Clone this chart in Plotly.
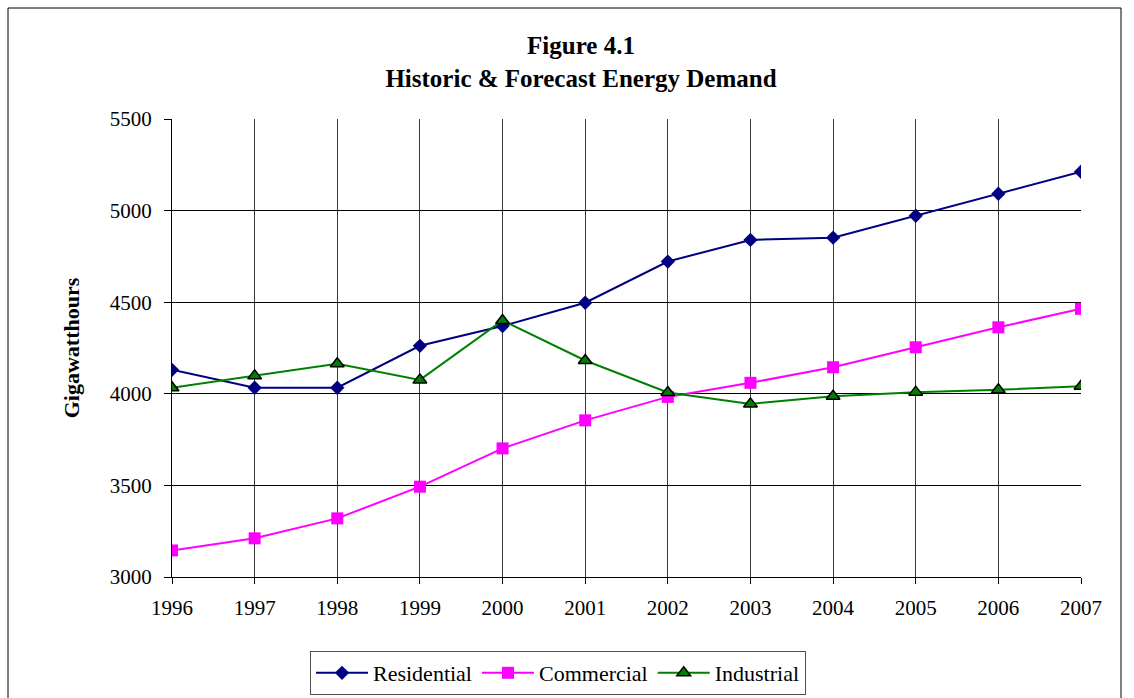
import plotly.graph_objects as go

years = [1996, 1997, 1998, 1999, 2000, 2001, 2002, 2003, 2004, 2005, 2006, 2007]
residential = [4131, 4033, 4033, 4262, 4370, 4497, 4722, 4840, 4852, 4972, 5092, 5212]
commercial = [3145, 3211, 3320, 3493, 3702, 3855, 3983, 4060, 4145, 4254, 4363, 4464]
industrial = [4033, 4098, 4164, 4076, 4400, 4182, 4007, 3945, 3987, 4009, 4022, 4041]
y_ticks = [3000, 3500, 4000, 4500, 5000, 5500]

FONT = "Liberation Serif, Times New Roman, serif"

fig = go.Figure()
fig.add_trace(go.Scatter(x=years, y=residential, name="Residential", mode="lines+markers",
                         line=dict(color="#000080", width=2),
                         marker=dict(symbol="diamond", size=11, color="#000080")))
fig.add_trace(go.Scatter(x=years, y=commercial, name="Commercial", mode="lines+markers",
                         line=dict(color="#FF00FF", width=2),
                         marker=dict(symbol="square", size=12, color="#FF00FF")))
fig.add_trace(go.Scatter(x=years, y=industrial, name="Industrial", mode="lines+markers",
                         line=dict(color="#008000", width=2),
                         marker=dict(symbol="triangle-up", size=12, color="#008000",
                                     line=dict(color="black", width=1.5))))

fig.update_layout(
    width=1134, height=698,
    margin=dict(l=172, r=53, t=119, b=121, autoexpand=False),
    paper_bgcolor="white", plot_bgcolor="white",
    font=dict(family=FONT, size=21, color="black"),
    title=dict(text="<b>Figure 4.1<br>Historic &amp; Forecast Energy Demand</b>",
               x=581 / 1134, xanchor="center", xref="container",
               y=1 - 54 / 698, yanchor="middle", yref="container",
               font=dict(family=FONT, size=25, color="black")),
    showlegend=True,
    legend=dict(orientation="h", x=(558 - 172) / 909, xanchor="center",
                y=-(651 - 577) / 458, yanchor="top",
                bordercolor="#505050", borderwidth=1, bgcolor="white",
                font=dict(family=FONT, size=22), itemwidth=52,
                tracegroupgap=0),
    xaxis=dict(range=[1996, 2007], tickmode="array", tickvals=years,
               ticktext=[str(y) for y in years],
               showgrid=True, gridcolor="#3a3a3a", gridwidth=1,
               showline=True, linecolor="black", linewidth=1, mirror=False,
               ticks="outside", ticklen=6, tickcolor="black",
               ticklabelstandoff=6,
               zeroline=False, tickfont=dict(family=FONT, size=21)),
    yaxis=dict(range=[3000, 5500], tickmode="array", tickvals=y_ticks,
               showgrid=True, gridcolor="black", gridwidth=1,
               showline=True, linecolor="black", linewidth=1,
               ticks="outside", ticklen=7, tickcolor="black",
               ticklabelstandoff=8,
               zeroline=False, tickfont=dict(family=FONT, size=21),
               title=dict(text="<b>Gigawatthours</b>", font=dict(family=FONT, size=22),
                          standoff=24)),
)

# outer chart border
fig.add_shape(type="rect", xref="paper", yref="paper",
              x0=(8 - 172) / 909, x1=(1121 - 172) / 909,
              y0=(577 - 710) / 458, y1=(577 - 8) / 458,
              line=dict(color="black", width=1), fillcolor="rgba(0,0,0,0)", layer="below")

fig.write_html("out.html", config={"displayModeBar": False},
               post_script="document.body.style.margin='0';")
